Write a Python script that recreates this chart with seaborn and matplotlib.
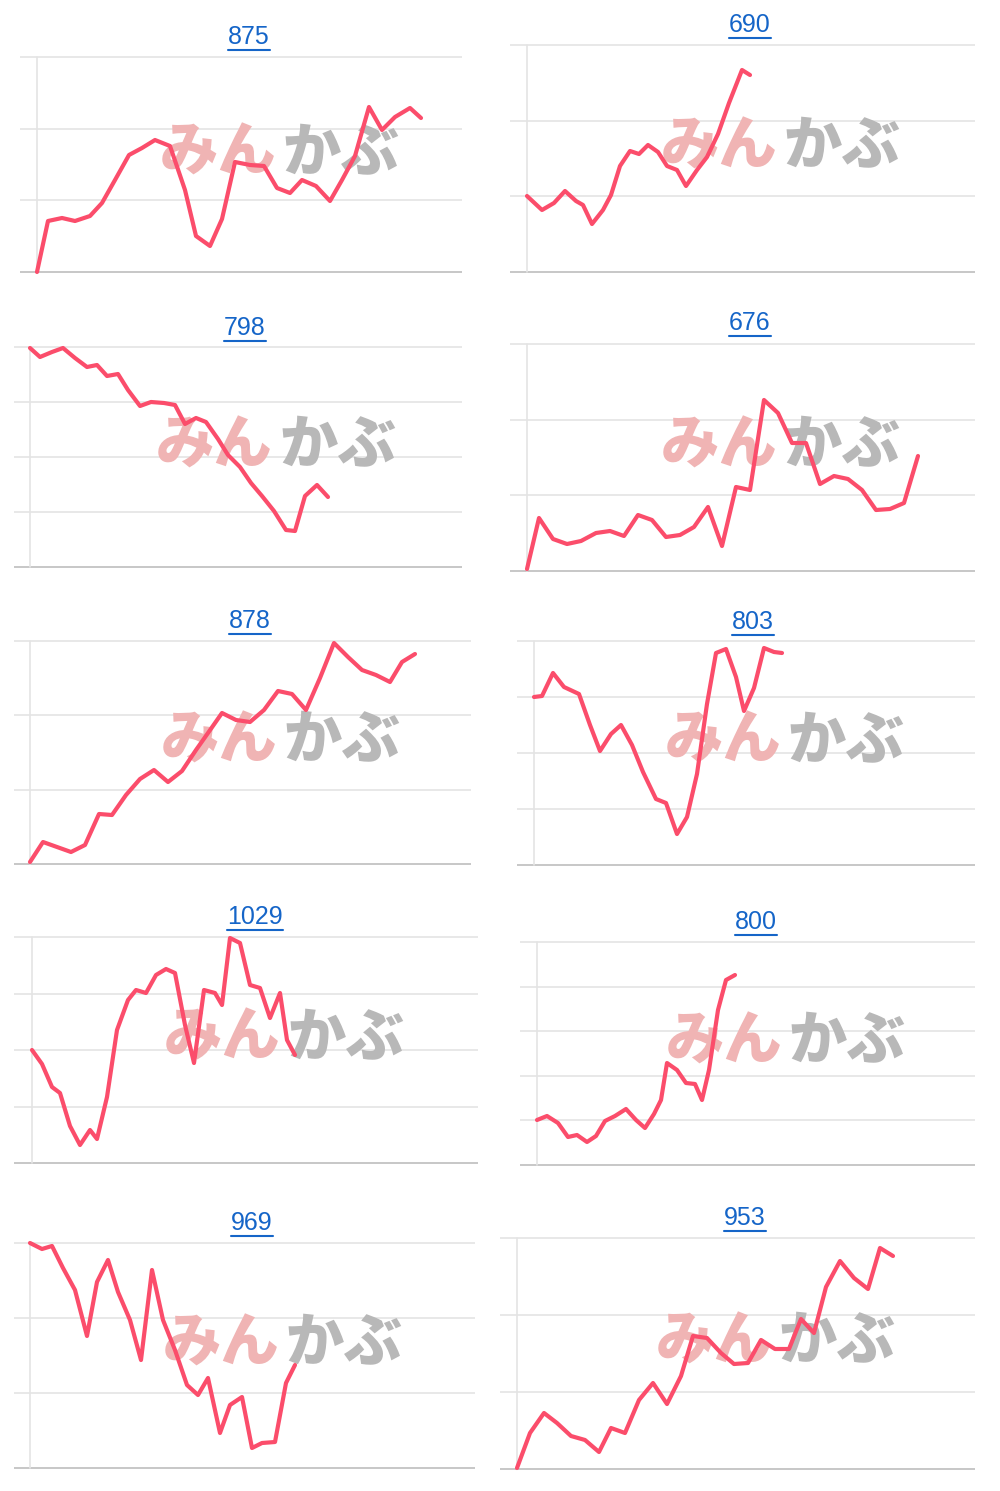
import matplotlib
matplotlib.use("Agg")
import matplotlib.pyplot as plt
import seaborn as sns
import pandas as pd
from matplotlib.lines import Line2D

sns.set_theme(style="white")
plt.rcParams['font.family'] = ['Noto Sans CJK JP', 'DejaVu Sans']

titles = ["875", "690", "798", "676", "878", "803", "1029", "800", "969", "953"]

# values (horizontal position, level) per chart
x_875 = [37,48,62,75,90,102,115,129,142,155,170,185,196,210,222,235,250,264,277,290,302,316,330,342,355,369,382,395,410,421]
y_875 = [272,221,218,221,216,203,180,155,148,140,146,190,236,246,219,162,165,166,188,193,180,186,201,180,156,107,130,117,108,118]
x_690 = [527,542,554,565,576,583,592,603,611,620,630,639,648,658,667,677,686,697,707,718,729,742,750]
y_690 = [196,210,203,191,201,205,224,210,195,166,151,154,145,152,166,170,186,170,157,134,103,70,75]
x_798 = [30,40,52,63,75,87,97,107,118,128,140,151,164,175,185,196,206,218,228,240,251,262,274,286,295,305,317,328]
y_798 = [348,357,352,348,358,367,365,376,374,390,406,402,403,405,424,418,422,439,455,467,483,496,511,530,531,496,485,497]
x_676 = [527,539,553,567,581,596,610,624,638,652,666,680,694,708,722,736,750,764,778,792,806,820,834,848,862,876,890,904,918]
y_676 = [569,518,539,544,541,533,531,536,515,520,537,535,527,507,546,487,490,400,413,443,443,484,476,479,490,510,509,503,456]
x_878 = [30,43,57,71,85,99,112,126,140,154,168,182,196,208,222,236,250,264,278,292,306,320,334,348,362,376,390,402,415]
y_878 = [862,842,847,852,845,814,815,795,779,770,782,771,750,733,713,720,722,710,691,694,710,678,643,657,670,675,682,662,654]
x_803 = [534,542,553,564,579,590,600,611,621,632,643,656,666,677,687,697,707,716,726,736,744,754,764,774,782]
y_803 = [697,696,673,687,694,725,751,734,725,745,772,799,803,834,817,774,704,653,649,677,711,688,648,652,653]
x_1029 = [32,42,52,60,70,80,90,97,107,117,128,136,146,156,166,175,185,194,204,215,222,230,240,250,260,270,280,287,295]
y_1029 = [1050,1064,1087,1093,1126,1145,1130,1139,1097,1030,1000,990,993,975,969,973,1025,1063,990,993,1005,938,943,985,988,1018,993,1040,1055]
x_800 = [537,547,558,568,577,587,596,605,615,626,636,645,654,661,667,677,686,695,702,709,718,726,735]
y_800 = [1120,1116,1123,1137,1135,1142,1136,1121,1116,1109,1120,1128,1114,1100,1063,1070,1083,1084,1100,1070,1010,980,975]
x_969 = [30,42,52,63,75,87,97,108,118,130,141,152,163,175,187,198,208,220,230,242,252,262,275,286,295]
y_969 = [1243,1249,1246,1268,1290,1336,1282,1260,1292,1320,1360,1270,1320,1350,1385,1395,1378,1433,1405,1397,1448,1443,1442,1383,1365]
x_953 = [517,530,544,557,571,585,599,611,625,639,653,667,681,693,707,721,734,748,761,775,789,801,814,826,840,854,868,880,893]
y_953 = [1468,1433,1413,1423,1436,1440,1452,1428,1433,1400,1383,1404,1376,1336,1338,1353,1364,1363,1340,1349,1349,1319,1333,1287,1261,1278,1289,1248,1256]

xs = [x_875, x_690, x_798, x_676, x_878, x_803, x_1029, x_800, x_969, x_953]
ys = [y_875, y_690, y_798, y_676, y_878, y_803, y_1029, y_800, y_969, y_953]

# layout: (grid left, y-axis line, grid right, top, bottom, n gridlines, title center x, title y)
boxes = [
    (20, 37, 462, 57, 272, 4, 249, 37),
    (510, 527, 975, 45, 272, 4, 750, 25),
    (14, 30, 462, 347, 567, 5, 245, 328),
    (510, 527, 975, 344, 571, 4, 750, 323),
    (14, 30, 471, 641, 864, 4, 250, 621),
    (517, 534, 975, 641, 865, 5, 753, 622),
    (14, 32, 478, 937, 1163, 5, 255, 917),
    (520, 537, 975, 942, 1165, 6, 756, 922),
    (14, 30, 475, 1243, 1468, 4, 252, 1223),
    (500, 517, 975, 1238, 1469, 4, 745, 1218),
]

W, H = 1000, 1491
fig = plt.figure(figsize=(W/100, H/100), dpi=100)
fig.patch.set_facecolor("white")
title_texts = []
for i, (gl, ya, gr, top, bot, ng, tx, ty) in enumerate(boxes):
    ax = fig.add_axes([gl/W, 1-(bot+4)/H, (gr-gl)/W, (bot-top+8)/H])
    ax.set_xlim(gl, gr)
    ax.set_ylim(bot+4, top-4)
    ax.axis("off")
    step = (bot-top)/(ng-1)
    for k in range(ng):
        yy = top + k*step
        ax.axhline(yy, color="#bdbdbd" if k == ng-1 else "#e4e4e4", lw=1.2, zorder=1)
    ax.plot([ya, ya], [top, bot], color="#e4e4e4", lw=1.2, zorder=1)
    cx = (gl+gr)/2 + 35
    cy = top + (bot-top)*0.45
    ax.text(cx, cy, "みん", color="#f0b4b4", fontsize=42, fontweight="heavy",
            style="italic", ha="right", va="center", zorder=2)
    ax.text(cx+6, cy, "かぶ", color="#b8b8b8", fontsize=42, fontweight="heavy",
            style="italic", ha="left", va="center", zorder=2)
    df = pd.DataFrame({"x": xs[i], "y": ys[i]})
    sns.lineplot(data=df, x="x", y="y", ax=ax, color="#fb4d6b", lw=3.0,
                 sort=False, zorder=3)
    t = fig.text(tx/W, 1-ty/H, titles[i], color="#1565c8", fontsize=18,
                 family=["Liberation Sans", "DejaVu Sans"], ha="center", va="center")
    title_texts.append(t)

fig.canvas.draw()
r = fig.canvas.get_renderer()
for t in title_texts:
    bb = t.get_window_extent(r)
    yline = bb.y0 - 1
    fig.add_artist(Line2D([bb.x0/W, bb.x1/W], [yline/H, yline/H],
                          color="#1565c8", lw=1.5, transform=fig.transFigure))

fig.savefig("out.png", dpi=100, facecolor="white")
